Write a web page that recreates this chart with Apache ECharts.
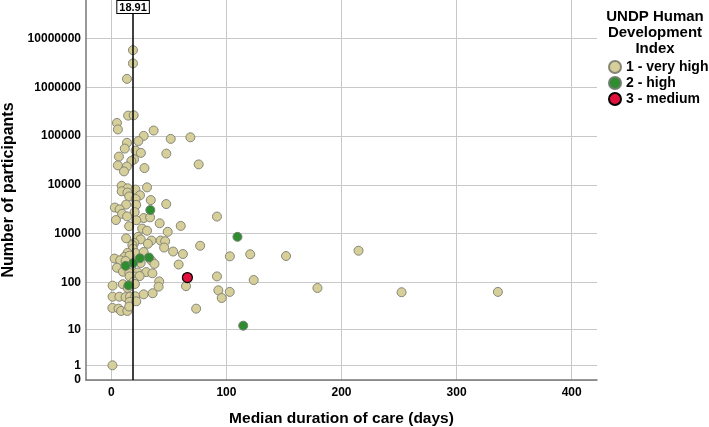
<!DOCTYPE html>
<html>
<head>
<meta charset="utf-8">
<script src="https://cdn.jsdelivr.net/npm/echarts@6/dist/echarts.min.js"></script>
<style>
  html, body { margin: 0; padding: 0; background: #fff; }
  #chart { width: 709px; height: 427px; }
</style>
</head>
<body>
<div id="chart"></div>
<script>
// median duration of care (days) and number of participants, one pair per study
const veryHighDays = [18.8, 18.8, 13.6, 14.6, 19.4, 4.9, 5.7, 36.8, 28.1, 68.7, 51.6, 23.5, 13.6, 11.7, 21.1, 25.7,
  47.8, 6.6, 19.8, 17.4, 5.7, 13.5, 75.9, 28.8, 11.0, 9.0, 31.0, 14.2, 21.0, 9.0, 14.0, 24.9, 15.5, 21.1, 34.3,
  47.7, 12.9, 21.6, 3.1, 7.2, 20.3, 9.4, 13.7, 28.1, 33.7, 91.8, 4.0, 21.7, 42.0, 60.3, 15.5, 26.8, 31.0, 49.0,
  23.3, 12.9, 25.5, 34.9, 42.9, 46.8, 31.8, 20.0, 18.3, 45.9, 18.8, 77.2, 53.7, 62.2, 14.2, 21.1, 28.1, 103.0,
  120.7, 151.8, 214.8, 11.6, 15.9, 2.9, 7.7, 12.4, 34.8, 25.5, 37.5, 58.5, 4.9, 17.0, 10.1, 15.7, 22.9, 30.4,
  35.7, 20.7, 24.6, 15.9, 91.8, 123.7, 19.4, 41.6, 1.1, 10.0, 14.2, 20.5, 41.1, 64.9, 93.0, 102.9, 95.9, 179.1,
  252.2, 335.9, 1.1, 7.0, 12.4, 16.2, 20.9, 28.1, 35.9, 15.9, 21.7, 0.9, 6.3, 8.5, 13.9, 15.5, 73.7, 1.0];
const veryHighN = [5780000, 3090000, 1490000, 263000, 267000, 186000, 137000, 130000, 101000, 94500, 87700, 79000,
  72900, 55500, 50500, 45300, 43800, 38000, 33300, 30800, 25100, 23700, 26300, 22100, 18900, 9540, 8890, 8510,
  8010, 7390, 6950, 6120, 5810, 5120, 4880, 4040, 3950, 3890, 3430, 3150, 2770, 2550, 2260, 2090, 2160, 2240,
  1900, 1880, 1630, 1440, 1420, 1270, 1150, 1090, 860, 800, 764, 722, 722, 698, 620, 641, 583, 518, 490, 564,
  429, 381, 404, 399, 419, 342, 377, 347, 446, 334, 355, 308, 284, 274, 280, 249, 239, 232, 199, 199, 165, 155,
  159, 162, 153, 131, 134, 132, 132, 111, 103, 104, 85, 91, 76, 92, 81, 83, 68, 63, 47, 76, 62, 63, 50, 50, 49,
  50, 51, 56, 59, 39, 40, 29, 28, 25, 25, 31, 28, 1];
const highDays = [33.9, 109.6, 24.8, 32.7, 19.0, 12.4, 14.9, 114.6];
const highN = [3050, 860, 312, 323, 249, 218, 86, 12];
const mediumDays = [66.1];
const mediumN = [125];

const medianLine = 18.91;
const xTicks = [0, 100, 200, 300, 400];
const yTicks = [0, 1, 10, 100, 1000, 10000, 100000, 1000000, 10000000];

// y axis is log10(n + 1), so 0 participants sits on the floor
const toY = n => Math.log10(n + 1);
const pairs = (xs, ns) => xs.map((x, i) => [x, toY(ns[i])]);

const font = '"Liberation Sans", Arial, sans-serif';

const chart = echarts.init(document.getElementById('chart'));
chart.setOption({
  animation: false,
  textStyle: { fontFamily: font },
  title: {
    text: 'UNDP Human\nDevelopment\nIndex',
    left: 650,
    top: 4,
    textAlign: 'center',
    textStyle: { fontSize: 15, fontWeight: 'bold', color: '#000', lineHeight: 16, fontFamily: font }
  },
  legend: {
    orient: 'vertical',
    left: 603,
    top: 55,
    itemWidth: 12,
    itemHeight: 12,
    itemGap: 2,
    icon: 'circle',
    textStyle: { fontSize: 14, fontWeight: 'bold', color: '#000', fontFamily: font },
    data: ['1 - very high', '2 - high', '3 - medium']
  },
  grid: { left: 86, right: 112, top: 0, bottom: 47, outerBoundsMode: 'none' },
  xAxis: {
    type: 'value',
    min: -22,
    max: 422,
    name: 'Median duration of care (days)',
    nameLocation: 'middle',
    nameGap: 31,
    nameTextStyle: { fontSize: 15.5, fontWeight: 'bold', color: '#000', fontFamily: font },
    axisLine: { show: true, onZero: false, lineStyle: { color: '#777', width: 1.5 } },
    axisTick: { show: false, customValues: xTicks },
    axisLabel: { customValues: xTicks, fontSize: 12, fontWeight: 'bold', color: '#000', margin: 7 },
    splitLine: { show: true, lineStyle: { color: '#c8c8c8', width: 1 } }
  },
  yAxis: {
    type: 'value',
    min: 0,
    max: 7.79,
    name: 'Number of participants',
    nameLocation: 'middle',
    nameGap: 63,
    nameTextStyle: { fontSize: 16, fontWeight: 'bold', color: '#000', fontFamily: font },
    axisLine: { show: true, onZero: false, lineStyle: { color: '#777', width: 1.5 } },
    axisTick: { show: false, customValues: yTicks.map(toY) },
    axisLabel: {
      customValues: yTicks.map(toY),
      fontSize: 12, fontWeight: 'bold', color: '#000', margin: 5,
      formatter: v => String(Math.round(Math.pow(10, v) - 1))
    },
    splitLine: { show: true, lineStyle: { color: '#c8c8c8', width: 1 } }
  },
  series: [
    {
      name: '1 - very high',
      type: 'scatter',
      symbolSize: 9,
      itemStyle: { color: '#d6cf99', borderColor: '#858578', borderWidth: 1, opacity: 1 },
      data: pairs(veryHighDays, veryHighN),
      markLine: {
        silent: true,
        symbol: 'none',
        lineStyle: { color: '#000', width: 1.5, type: 'solid' },
        label: {
          show: true,
          position: 'end',
          distance: -13,
          formatter: String(medianLine),
          fontSize: 11,
          fontWeight: 'bold',
          color: '#000',
          backgroundColor: '#fff',
          borderColor: '#000',
          borderWidth: 1,
          padding: [1, 2, 0, 2]
        },
        data: [{ xAxis: medianLine }]
      }
    },
    {
      name: '2 - high',
      type: 'scatter',
      symbolSize: 9,
      itemStyle: { color: '#2f8c2f', borderColor: '#6f7f6f', borderWidth: 1, opacity: 1 },
      data: pairs(highDays, highN)
    },
    {
      name: '3 - medium',
      type: 'scatter',
      symbolSize: 10,
      itemStyle: { color: '#e0103c', borderColor: '#000', borderWidth: 1.2, opacity: 1 },
      data: pairs(mediumDays, mediumN)
    }
  ]
});
</script>
</body>
</html>
